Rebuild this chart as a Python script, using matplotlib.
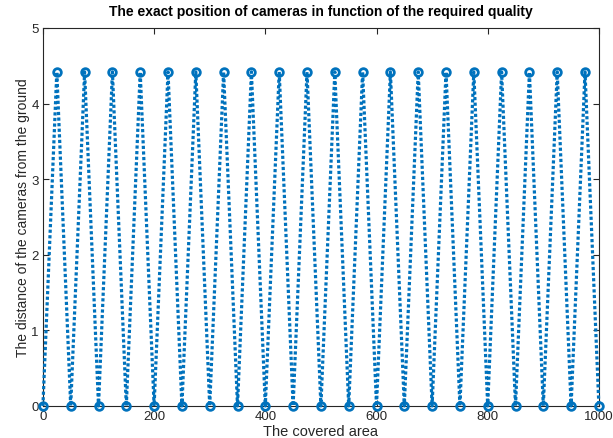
import matplotlib
matplotlib.use("Agg")
import matplotlib.pyplot as plt

plt.rcParams['font.family'] = ['Liberation Sans', 'DejaVu Sans']

# Camera positions along the covered area and their heights above ground
area = [0, 25, 50, 75, 100, 125, 150, 175, 200, 225, 250, 275, 300, 325, 350,
        375, 400, 425, 450, 475, 500, 525, 550, 575, 600, 625, 650, 675, 700,
        725, 750, 775, 800, 825, 850, 875, 900, 925, 950, 975, 1000]
height = [0, 4.42, 0, 4.42, 0, 4.42, 0, 4.42, 0, 4.42, 0, 4.42, 0, 4.42, 0,
          4.42, 0, 4.42, 0, 4.42, 0, 4.42, 0, 4.42, 0, 4.42, 0, 4.42, 0,
          4.42, 0, 4.42, 0, 4.42, 0, 4.42, 0, 4.42, 0, 4.42, 0]

xticks = [0, 200, 400, 600, 800, 1000]
yticks = [0, 1, 2, 3, 4, 5]

blue = '#0072BD'
axis_col = '#262626'

fig = plt.figure(figsize=(6.13, 4.39), dpi=100)
ax = fig.add_axes([0.070, 0.073, 0.907, 0.861])

ax.plot(area, height, linestyle=(0, (1.0, 0.75)), color=blue, linewidth=2.3,
        marker='o', markersize=5.5, markerfacecolor='none',
        markeredgewidth=2.0, markeredgecolor=blue, clip_on=False, zorder=3)

ax.set_xlim(0, 1000)
ax.set_ylim(0, 5)
ax.set_xticks(xticks)
ax.set_yticks(yticks)
ax.tick_params(direction='in', length=4, width=0.8, colors=axis_col,
               labelsize=9.5, top=True, right=True, labeltop=False,
               labelright=False, pad=3)
for s in ax.spines.values():
    s.set_color(axis_col)
    s.set_linewidth(0.8)

ax.set_title('The exact position of cameras in function of the required quality',
             fontsize=10, fontweight='bold', color='black', pad=9)
ax.set_xlabel('The covered area', fontsize=10.5, color=axis_col, labelpad=1)
ax.set_ylabel('The distance of the cameras from the ground', fontsize=10,
              color=axis_col, labelpad=1)

fig.savefig('out.png', dpi=100)
